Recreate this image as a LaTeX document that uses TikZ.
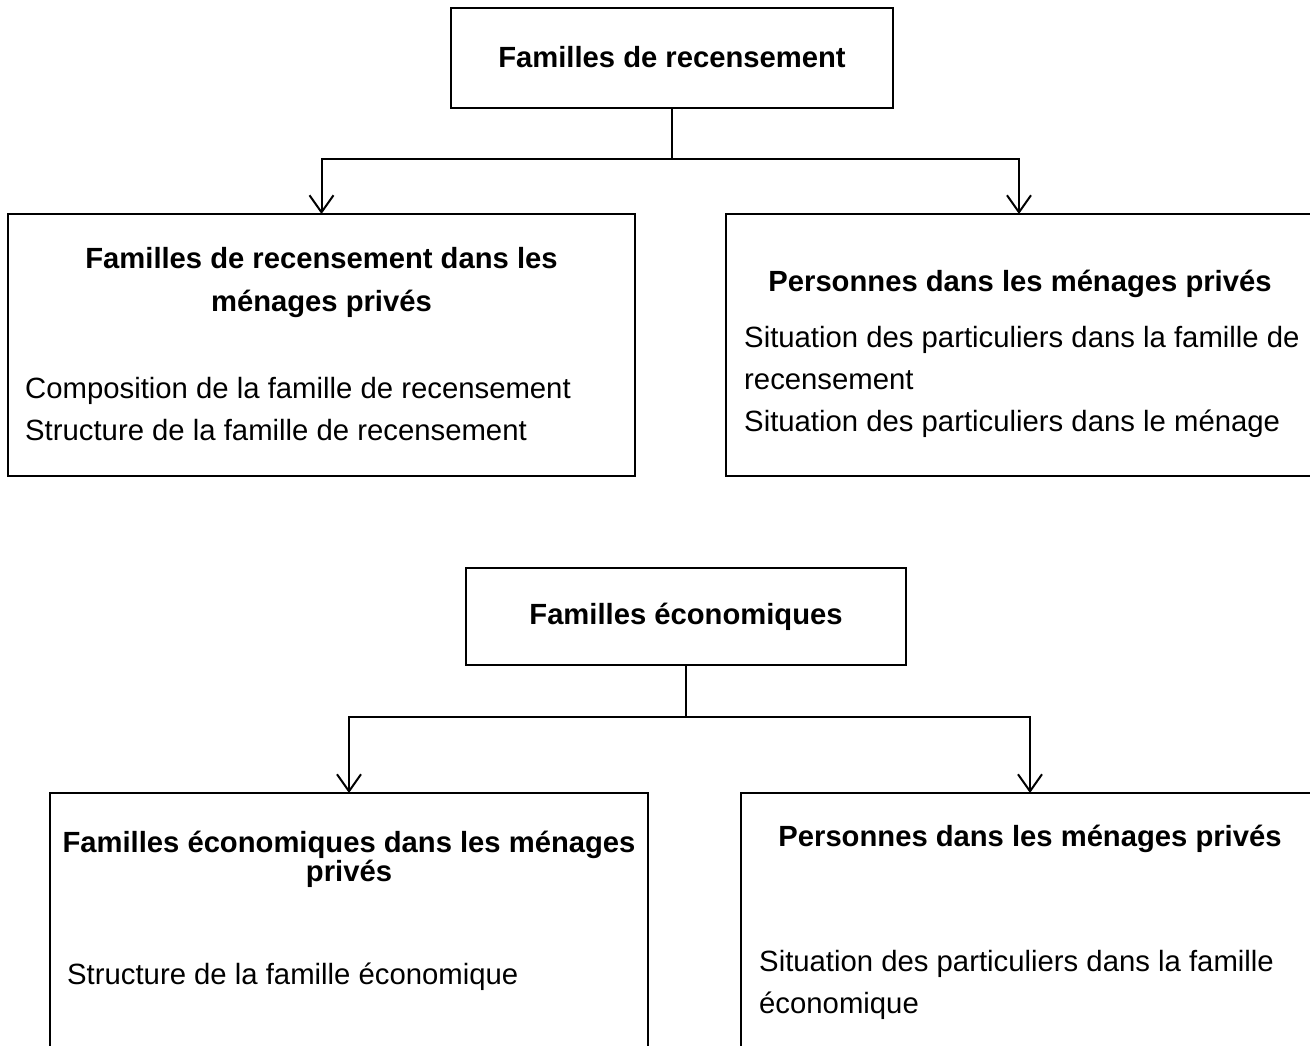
\documentclass[tikz,border=0pt]{standalone}
\usepackage{fontspec}
\setmainfont{Liberation Sans}
\usetikzlibrary{arrows.meta}
\newcommand\tightlines{\lineskiplimit=-100pt\relax\lineskip=0pt\relax}
\begin{document}
\begin{tikzpicture}[x=1pt,y=-1pt,
  box/.style={draw,line width=2pt,inner sep=0pt,outer sep=0pt},
  head/.style={font=\fontsize{29.2}{43}\selectfont\bfseries,inner sep=0pt,align=center},
  body/.style={font=\fontsize{29.3}{42}\selectfont,inner sep=0pt,align=left,anchor=base west},
  link/.style={line width=2pt},
  arr/.style={line width=2pt,-{Straight Barb[length=17pt,width=24pt,line width=2pt]}}]
\clip (0,0) rectangle (1310,1045);
\fill[white] (0,0) rectangle (1310,1045);

% census families
\node[box,head,minimum width=442pt,minimum height=100pt] (t1) at (672,57.5) {Familles de recensement};
\node[box,minimum width=627pt,minimum height=262pt] (l1) at (321.5,345) {};
\node[box,minimum width=586pt,minimum height=262pt] (r1) at (1019,345) {};
\draw[link] (t1.south) -- ++(0,51) coordinate (j1);
\draw[arr] (j1) -| (l1.north);
\draw[arr] (j1) -| (r1.north);

% multi-line nodes are placed by the baseline of their last line
\node[head,anchor=base] (l1h) at (321.5,311) {Familles de recensement dans les\\ménages privés};
\node[body] (l1b) at (25,440) {Composition de la famille de recensement\\Structure de la famille de recensement};
\node[head,anchor=base] (r1h) at (1020,291) {Personnes dans les ménages privés};
\node[body] (r1b) at (744,431) {Situation des particuliers dans la famille de\\recensement\\Situation des particuliers dans le ménage};

% economic families
\node[box,head,minimum width=440pt,minimum height=97pt] (t2) at (686,616.5) {Familles économiques};
\node[box,minimum width=598pt,minimum height=277pt] (l2) at (349,931.5) {};
\node[box,minimum width=578pt,minimum height=277pt] (r2) at (1030,931.5) {};
\draw[link] (t2.south) -- ++(0,52) coordinate (j2);
\draw[arr] (j2) -| (l2.north);
\draw[arr] (j2) -| (r2.north);

\node[head,anchor=base,font={\fontsize{29.2}{29}\selectfont\bfseries\tightlines}] (l2h) at (349,881) {Familles économiques dans les ménages\\privés};
\node[body] (l2b) at (67,984) {Structure de la famille économique};
\node[head,anchor=base] (r2h) at (1030,846) {Personnes dans les ménages privés};
\node[body] (r2b) at (759,1013) {Situation des particuliers dans la famille\\économique};
\end{tikzpicture}
\end{document}
